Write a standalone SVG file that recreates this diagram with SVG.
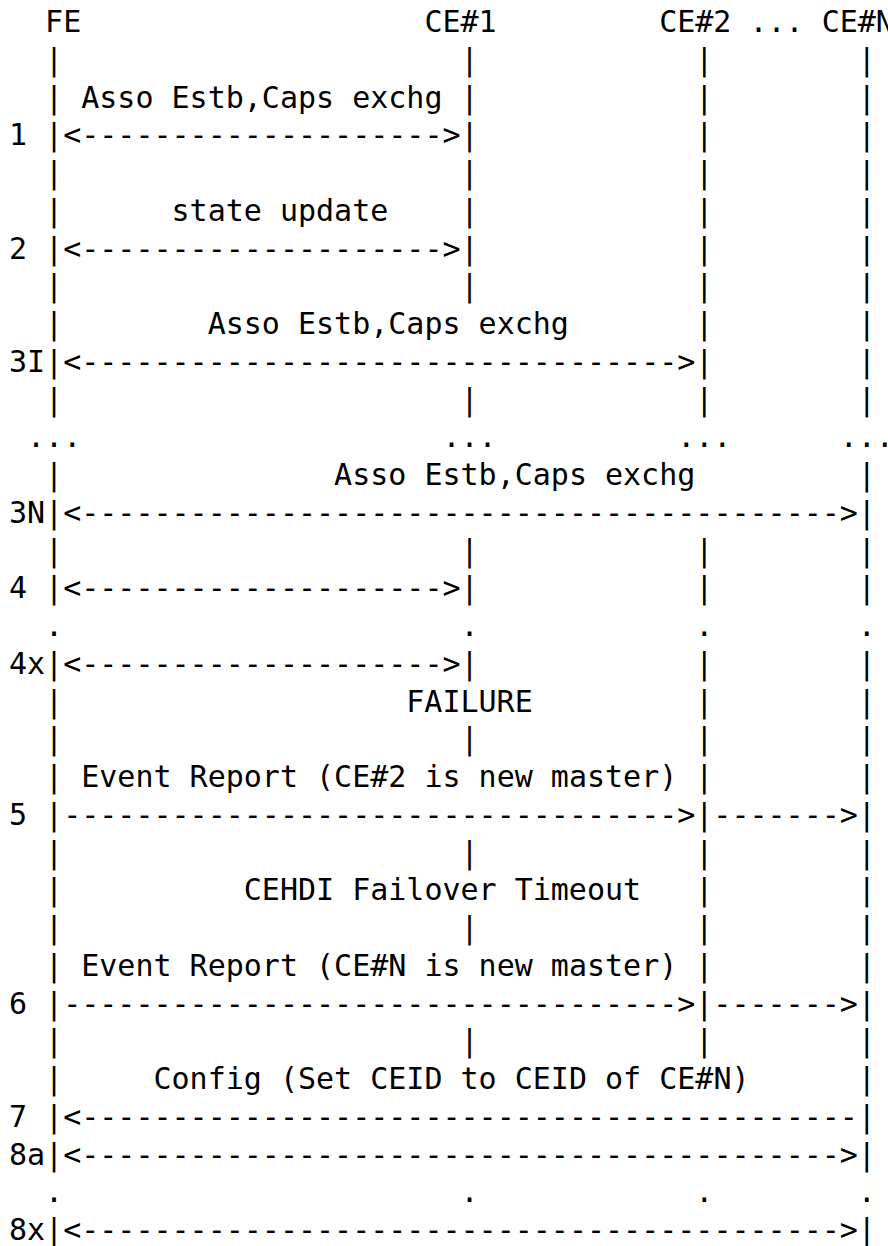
<svg xmlns="http://www.w3.org/2000/svg" width="888" height="1246" viewBox="0 0 888 1246">
<style>
text { font-family: "DejaVu Sans Mono", "Liberation Mono", monospace; font-size: 30px; fill: #000; white-space: pre; }
</style>
<rect x="0" y="0" width="888" height="1246" fill="#fff"/>
<g id="node-FE"><text x="45.12" y="32">FE</text></g>
<g id="node-CE1"><text x="424.38" y="32">CE#1</text></g>
<g id="node-CE2"><text x="659.16" y="32">CE#2</text></g>
<g id="node-gap"><text x="749.46" y="32">...</text></g>
<g id="node-CEN"><text x="821.7" y="32">CE#N</text></g>
<g id="lifelines">
<text x="45.12" y="69.75">|</text><text x="460.5" y="69.75">|</text><text x="695.28" y="69.75">|</text><text x="857.82" y="69.75">|</text>
<text x="45.12" y="107.5">|</text><text x="460.5" y="107.5">|</text><text x="695.28" y="107.5">|</text><text x="857.82" y="107.5">|</text>
<text x="45.12" y="145.25">|</text><text x="460.5" y="145.25">|</text><text x="695.28" y="145.25">|</text><text x="857.82" y="145.25">|</text>
<text x="45.12" y="183">|</text><text x="460.5" y="183">|</text><text x="695.28" y="183">|</text><text x="857.82" y="183">|</text>
<text x="45.12" y="220.75">|</text><text x="460.5" y="220.75">|</text><text x="695.28" y="220.75">|</text><text x="857.82" y="220.75">|</text>
<text x="45.12" y="258.5">|</text><text x="460.5" y="258.5">|</text><text x="695.28" y="258.5">|</text><text x="857.82" y="258.5">|</text>
<text x="45.12" y="296.25">|</text><text x="460.5" y="296.25">|</text><text x="695.28" y="296.25">|</text><text x="857.82" y="296.25">|</text>
<text x="45.12" y="334">|</text><text x="695.28" y="334">|</text><text x="857.82" y="334">|</text>
<text x="45.12" y="371.75">|</text><text x="695.28" y="371.75">|</text><text x="857.82" y="371.75">|</text>
<text x="45.12" y="409.5">|</text><text x="460.5" y="409.5">|</text><text x="695.28" y="409.5">|</text><text x="857.82" y="409.5">|</text>
<text x="27.06" y="447.25">...</text><text x="442.44" y="447.25">...</text><text x="677.22" y="447.25">...</text><text x="839.76" y="447.25">...</text>
<text x="45.12" y="485">|</text><text x="857.82" y="485">|</text>
<text x="45.12" y="522.75">|</text><text x="857.82" y="522.75">|</text>
<text x="45.12" y="560.5">|</text><text x="460.5" y="560.5">|</text><text x="695.28" y="560.5">|</text><text x="857.82" y="560.5">|</text>
<text x="45.12" y="598.25">|</text><text x="460.5" y="598.25">|</text><text x="695.28" y="598.25">|</text><text x="857.82" y="598.25">|</text>
<text x="45.12" y="636">.</text><text x="460.5" y="636">.</text><text x="695.28" y="636">.</text><text x="857.82" y="636">.</text>
<text x="45.12" y="673.75">|</text><text x="460.5" y="673.75">|</text><text x="695.28" y="673.75">|</text><text x="857.82" y="673.75">|</text>
<text x="45.12" y="711.5">|</text><text x="695.28" y="711.5">|</text><text x="857.82" y="711.5">|</text>
<text x="45.12" y="749.25">|</text><text x="460.5" y="749.25">|</text><text x="695.28" y="749.25">|</text><text x="857.82" y="749.25">|</text>
<text x="45.12" y="787">|</text><text x="695.28" y="787">|</text><text x="857.82" y="787">|</text>
<text x="45.12" y="824.75">|</text><text x="695.28" y="824.75">|</text><text x="857.82" y="824.75">|</text>
<text x="45.12" y="862.5">|</text><text x="460.5" y="862.5">|</text><text x="695.28" y="862.5">|</text><text x="857.82" y="862.5">|</text>
<text x="45.12" y="900.25">|</text><text x="695.28" y="900.25">|</text><text x="857.82" y="900.25">|</text>
<text x="45.12" y="938">|</text><text x="460.5" y="938">|</text><text x="695.28" y="938">|</text><text x="857.82" y="938">|</text>
<text x="45.12" y="975.75">|</text><text x="695.28" y="975.75">|</text><text x="857.82" y="975.75">|</text>
<text x="45.12" y="1013.5">|</text><text x="695.28" y="1013.5">|</text><text x="857.82" y="1013.5">|</text>
<text x="45.12" y="1051.25">|</text><text x="460.5" y="1051.25">|</text><text x="695.28" y="1051.25">|</text><text x="857.82" y="1051.25">|</text>
<text x="45.12" y="1089">|</text><text x="857.82" y="1089">|</text>
<text x="45.12" y="1126.75">|</text><text x="857.82" y="1126.75">|</text>
<text x="45.12" y="1164.5">|</text><text x="857.82" y="1164.5">|</text>
<text x="45.12" y="1202.25">.</text><text x="460.5" y="1202.25">.</text><text x="695.28" y="1202.25">.</text><text x="857.82" y="1202.25">.</text>
<text x="45.12" y="1240">|</text><text x="857.82" y="1240">|</text>
</g>
<g id="connectors">
<text x="63.18" y="145.25">&lt;--------------------&gt;</text>
<text x="63.18" y="258.5">&lt;--------------------&gt;</text>
<text x="63.18" y="371.75">&lt;---------------------------------&gt;</text>
<text x="63.18" y="522.75">&lt;------------------------------------------&gt;</text>
<text x="63.18" y="598.25">&lt;--------------------&gt;</text>
<text x="63.18" y="673.75">&lt;--------------------&gt;</text>
<text x="63.18" y="824.75">----------------------------------&gt;</text>
<text x="713.34" y="824.75">-------&gt;</text>
<text x="63.18" y="1013.5">----------------------------------&gt;</text>
<text x="713.34" y="1013.5">-------&gt;</text>
<text x="63.18" y="1126.75">&lt;-------------------------------------------</text>
<text x="63.18" y="1164.5">&lt;------------------------------------------&gt;</text>
<text x="63.18" y="1240">&lt;------------------------------------------&gt;</text>
</g>
<g id="labels">
<text x="81.24" y="107.5">Asso Estb,Caps exchg</text>
<text x="171.54" y="220.75">state update</text>
<text x="207.66" y="334">Asso Estb,Caps exchg</text>
<text x="334.08" y="485">Asso Estb,Caps exchg</text>
<text x="406.32" y="711.5">FAILURE</text>
<text x="81.24" y="787">Event Report (CE#2 is new master)</text>
<text x="243.78" y="900.25">CEHDI Failover Timeout</text>
<text x="81.24" y="975.75">Event Report (CE#N is new master)</text>
<text x="153.48" y="1089">Config (Set CEID to CEID of CE#N)</text>
</g>
<g id="steps">
<text x="9" y="145.25">1</text>
<text x="9" y="258.5">2</text>
<text x="9" y="371.75">3I</text>
<text x="9" y="522.75">3N</text>
<text x="9" y="598.25">4</text>
<text x="9" y="673.75">4x</text>
<text x="9" y="824.75">5</text>
<text x="9" y="1013.5">6</text>
<text x="9" y="1126.75">7</text>
<text x="9" y="1164.5">8a</text>
<text x="9" y="1240">8x</text>
</g>
</svg>
